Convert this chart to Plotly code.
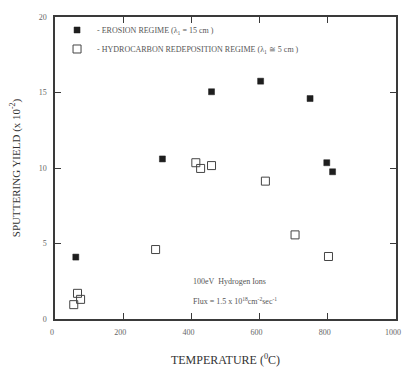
import plotly.graph_objects as go

# Erosion regime (filled squares)
erosion_temp = [61, 315, 459, 603, 748, 797, 814]
erosion_yield = [4.1, 10.6, 15.05, 15.75, 14.6, 10.35, 9.75]

# Hydrocarbon redeposition regime (open squares)
redep_temp = [55, 66, 75, 295, 413, 427, 459, 617, 704, 802]
redep_yield = [0.95, 1.7, 1.3, 4.6, 10.35, 9.97, 10.16, 9.13, 5.57, 4.14]

x_ticks = [0, 200, 400, 600, 800, 1000]
y_ticks = [0, 5, 10, 15, 20]

FONT = "Liberation Serif, Times New Roman, serif"
INK = "#3a3a3a"

fig = go.Figure()
fig.add_trace(go.Scatter(
    x=erosion_temp, y=erosion_yield, mode="markers",
    name="- EROSION REGIME (λ<sub>1</sub> = 15 cm )",
    marker=dict(symbol="square", size=6, color="#1e1e1e",
                line=dict(color="#1e1e1e", width=0.5)),
))
fig.add_trace(go.Scatter(
    x=redep_temp, y=redep_yield, mode="markers",
    name="- HYDROCARBON REDEPOSITION REGIME (λ<sub>1</sub> ≅ 5 cm )",
    marker=dict(symbol="square-open", size=8, color="#444444",
                line=dict(color="#444444", width=1)),
))

fig.add_annotation(x=400, y=2.5, xref="x", yref="y", xanchor="left",
                   text="100eV  Hydrogen Ions", showarrow=False,
                   font=dict(family=FONT, size=8, color="#555"))
fig.add_annotation(x=400, y=1.2, xref="x", yref="y", xanchor="left",
                   text="Flux = 1.5 x 10<sup>18</sup>cm<sup>-2</sup>sec<sup>-1</sup>",
                   showarrow=False,
                   font=dict(family=FONT, size=8, color="#555"))

axis_common = dict(showline=True, linecolor=INK, linewidth=1.5, mirror="ticks",
                   ticks="inside", ticklen=6, tickcolor=INK, tickwidth=1.2,
                   showgrid=False, zeroline=False, ticklabelstandoff=5,
                   tickfont=dict(family=FONT, size=8, color="#666"))

fig.update_layout(
    width=398, height=362,
    margin=dict(l=47, r=5, t=7, b=46),
    paper_bgcolor="white", plot_bgcolor="white",
    font=dict(family=FONT, color=INK),
    xaxis=dict(range=[0, 1000], tickvals=x_ticks,
               ticktext=[str(v) for v in x_ticks], ticklabelshift=-3,
               title=dict(text="TEMPERATURE (<sup>0</sup>C)", standoff=19,
                          font=dict(family=FONT, size=12, color="#333")),
               **axis_common),
    yaxis=dict(range=[0, 20], tickvals=y_ticks,
               ticktext=[str(v) for v in y_ticks],
               title=dict(text="SPUTTERING YIELD (x 10<sup>-2</sup>)", standoff=16,
                          font=dict(family=FONT, size=11, color="#333")),
               **axis_common),
    legend=dict(x=0.006, y=1.005, xanchor="left", yanchor="top",
                bgcolor="rgba(0,0,0,0)", borderwidth=0,
                font=dict(family=FONT, size=8, color="#555"),
                itemwidth=30, tracegroupgap=0),
    showlegend=True,
)

fig.write_html("out.html")
